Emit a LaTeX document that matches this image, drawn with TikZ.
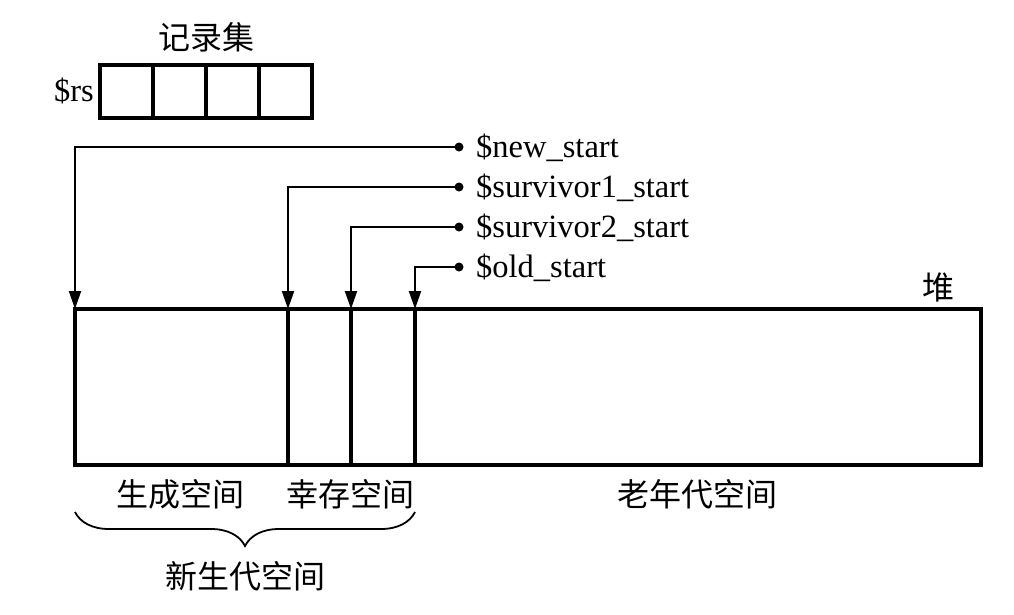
\documentclass[tikz,border=0pt]{standalone}
\usepackage{fontspec}
\setmainfont{Liberation Serif}
\newfontfamily\cjk{Noto Sans CJK SC}
\usetikzlibrary{arrows.meta,decorations.pathreplacing}
\begin{document}
\begin{tikzpicture}[x=1pt,y=-1pt,
  seg/.style={draw, line width=3.2pt, inner sep=0pt, outer sep=0pt, minimum height=156pt, anchor=north west},
  cell/.style={draw, line width=3.2pt, inner sep=0pt, outer sep=0pt, minimum height=53pt, minimum width=53pt, anchor=north west},
  lat/.style={font=\fontsize{32.5}{38}\selectfont, inner sep=0pt},
  zh/.style={font=\cjk\fontsize{32}{38}\selectfont, inner sep=0pt},
  ptr/.style={line width=2pt, -{Triangle[length=18pt,width=12pt]}},
  dotm/.style={circle, fill=black, inner sep=0pt, minimum size=9pt}
]
\useasboundingbox (0,0) rectangle (1014,614);
% record set
\node[zh] (rsl) at (206,37) {记录集};
\node[cell] (c1) at (100,65) {};
\node[cell] (c2) at (153,65) {};
\node[cell] (c3) at (206,65) {};
\node[cell] (c4) at (259,65) {};
\node[lat, anchor=east] (rs) at (94,91) {\$rs};
% heap
\node[seg, minimum width=213pt] (gen) at (75,309) {};
\node[seg, minimum width=63pt] (s1) at (288,309) {};
\node[seg, minimum width=64pt] (s2) at (351,309) {};
\node[seg, minimum width=566pt] (old) at (415,309) {};
\node[zh] (heap) at (938,287) {堆};
% pointers
\node[dotm] (d1) at (459,147) {};
\node[dotm] (d2) at (459,187) {};
\node[dotm] (d3) at (459,227) {};
\node[dotm] (d4) at (459,267) {};
\node[lat, anchor=base west] (t1) at (476,157) {\$new\_start};
\node[lat, anchor=base west] (t2) at (476,197) {\$survivor1\_start};
\node[lat, anchor=base west] (t3) at (476,237) {\$survivor2\_start};
\node[lat, anchor=base west] (t4) at (476,277) {\$old\_start};
\draw[ptr] (d1.center) -| (gen.north west);
\draw[ptr] (d2.center) -| (s1.north west);
\draw[ptr] (d3.center) -| (s2.north west);
\draw[ptr] (d4.center) -| (old.north west);
% labels
\node[zh] (l1) at (180,494) {生成空间};
\node[zh] (l2) at (350,494) {幸存空间};
\node[zh] (l3) at (697,494) {老年代空间};
\coordinate (bl) at (75,512);
\coordinate (br) at (415,512);
\draw[line width=1.8pt, decorate, decoration={brace, mirror, amplitude=34pt, aspect=0.5}] (bl) -- (br);
\node[zh] (l4) at (245,576) {新生代空间};
\end{tikzpicture}
\end{document}
